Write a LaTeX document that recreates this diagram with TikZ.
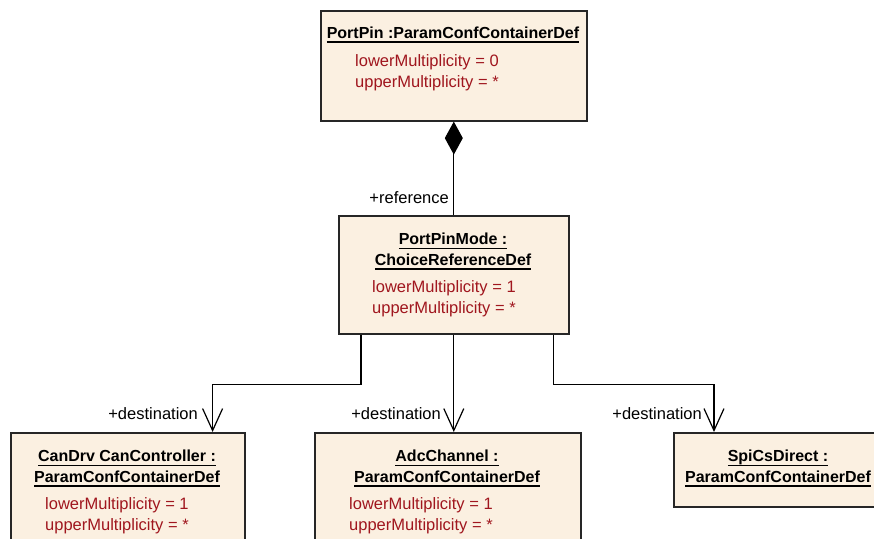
\documentclass[tikz,border=0pt]{standalone}
\usepackage{fontspec}
\setmainfont{Liberation Sans}
\usetikzlibrary{arrows.meta}

\definecolor{classfill}{RGB}{251,240,225}
\definecolor{attrred}{RGB}{160,22,30}
\definecolor{classline}{RGB}{38,38,38}

\newcommand{\ulname}[1]{\setbox0\hbox{#1}\rlap{\rule[-4.6pt]{\wd0}{1.3pt}}\box0}

\tikzset{
  classbox/.style={draw=classline, fill=classfill, line width=1.6pt, shape=rectangle, anchor=north west, inner sep=0pt},
  classname/.style={font=\fontsize{16}{20.5}\selectfont\bfseries, align=center, inner sep=0pt, anchor=base},
  attrib/.style={font=\fontsize{16.5}{20.5}\selectfont, text=attrred, align=left, inner sep=0pt, anchor=base west},
  role/.style={font=\fontsize{16.5}{20}\selectfont, inner sep=0pt, anchor=base east},
  nav/.style={line width=1.2pt, -{Straight Barb[length=22pt,width=20pt]}},
  compos/.style={line width=1.2pt, {Diamond[length=33pt,width=18pt]}-}
}

\begin{document}
\begin{tikzpicture}[x=1pt,y=-1pt]

  \useasboundingbox (0,0) rectangle (874,538);
  \clip (0,0) rectangle (874,538);

  \draw (320,10) node [classbox, minimum width=266pt, minimum height=110pt] (portpin) {};
  \draw (453,38) node [classname] (portpinname) {\ulname{PortPin :ParamConfContainerDef}};
  \draw (355,87) node [attrib] (portpinattr) {lowerMultiplicity = 0\\upperMultiplicity = *};

  \draw (338,215) node [classbox, minimum width=230pt, minimum height=118pt] (portpinmode) {};
  \draw (453,265) node [classname] (portpinmodename) {\ulname{PortPinMode :}\\\ulname{ChoiceReferenceDef}};
  \draw (372,313) node [attrib] (portpinmodeattr) {lowerMultiplicity = 1\\upperMultiplicity = *};

  \draw (10,432) node [classbox, minimum width=234pt, minimum height=130pt] (candrv) {};
  \draw (127,482) node [classname] (candrvname) {\ulname{CanDrv CanController :}\\\ulname{ParamConfContainerDef}};
  \draw (45,530) node [attrib] (candrvattr) {lowerMultiplicity = 1\\upperMultiplicity = *};

  \draw (314,432) node [classbox, minimum width=266pt, minimum height=130pt] (adcchannel) {};
  \draw (447,482) node [classname] (adcchannelname) {\ulname{AdcChannel :}\\\ulname{ParamConfContainerDef}};
  \draw (349,530) node [attrib] (adcchannelattr) {lowerMultiplicity = 1\\upperMultiplicity = *};

  \draw (673,432) node [classbox, minimum width=210pt, minimum height=74pt] (spics) {};
  \draw (778,482) node [classname] (spicsname) {\ulname{SpiCsDirect :}\\\ulname{ParamConfContainerDef}};

  \draw (449,203) node [role] (reflabel) {+reference};
  \draw (198,419) node [role] (destlabelA) {+destination};
  \draw (441,419) node [role] (destlabelB) {+destination};
  \draw (702,419) node [role] (destlabelC) {+destination};

  \draw[compos] (portpin.south) -- (portpinmode.north);
  \draw[nav] ([xshift=23pt]portpinmode.south west) -- ++(0,50) -| ([xshift=-33pt]candrv.north east);
  \draw[nav] (portpinmode.south) -- (portpinmode.south |- adcchannel.north);
  \draw[nav] ([xshift=-16pt]portpinmode.south east) -- ++(0,50) -| ([xshift=41pt]spics.north west);

\end{tikzpicture}
\end{document}
